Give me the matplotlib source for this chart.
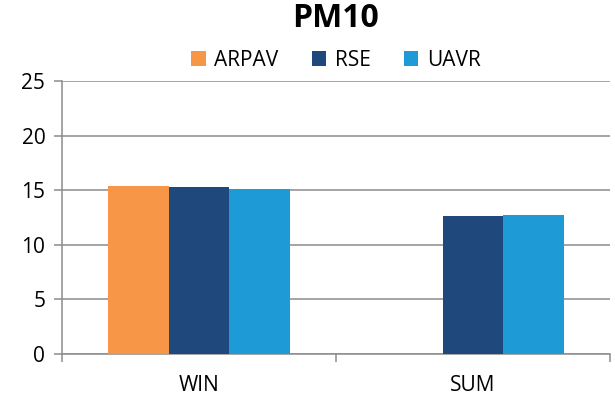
import numpy as np
import matplotlib
matplotlib.use("Agg")
import matplotlib.pyplot as plt

categories = ["WIN", "SUM"]
series = ["ARPAV", "RSE", "UAVR"]
arpav = [15.4, np.nan]
rse = [15.25, 12.65]
uavr = [15.1, 12.72]
colors = ["#F79646", "#1F497D", "#1E9BD7"]

plt.rcParams['font.family'] = ['Open Sans', 'DejaVu Sans']

fig = plt.figure(figsize=(6.15, 4.11), dpi=100)
ax = fig.add_axes([0.1008, 0.1387, 0.8912, 0.6643])

x = np.arange(len(categories))
w = 0.2215
for i, (name, vals) in enumerate(zip(series, [arpav, rse, uavr])):
    ax.bar(x + (i - 1) * w, vals, width=w, color=colors[i], label=name, zorder=3)

ax.set_xlim(-0.5, 1.5)
ax.set_ylim(0, 25)
ax.set_yticks(range(0, 26, 5))
ax.set_xticks(x)
ax.set_xticklabels(categories)
ax.set_xticks([-0.5, 0.5, 1.5], minor=True)
ax.tick_params(axis='x', which='major', length=0, pad=15, labelsize=15)
ax.tick_params(axis='x', which='minor', length=6, width=1.1, color='#8c8c8c')
ax.tick_params(axis='y', length=6, width=1.1, color='#8c8c8c', labelsize=15, pad=6)
ax.grid(axis='y', color='#8c8c8c', linewidth=1.1, zorder=0)
for s in ['top', 'right']:
    ax.spines[s].set_visible(False)
for s in ['left', 'bottom']:
    ax.spines[s].set_color('#8c8c8c')
    ax.spines[s].set_linewidth(1.1)

fig.text(0.546, 0.955, "PM10", ha='center', va='center', fontsize=23, fontweight='bold')
fig.legend(loc='center', bbox_to_anchor=(0.546, 0.853), ncol=3, frameon=False,
           fontsize=15, handlelength=0.7, handleheight=0.7, handletextpad=0.4,
           columnspacing=1.6)

fig.savefig("out.png", dpi=100)
